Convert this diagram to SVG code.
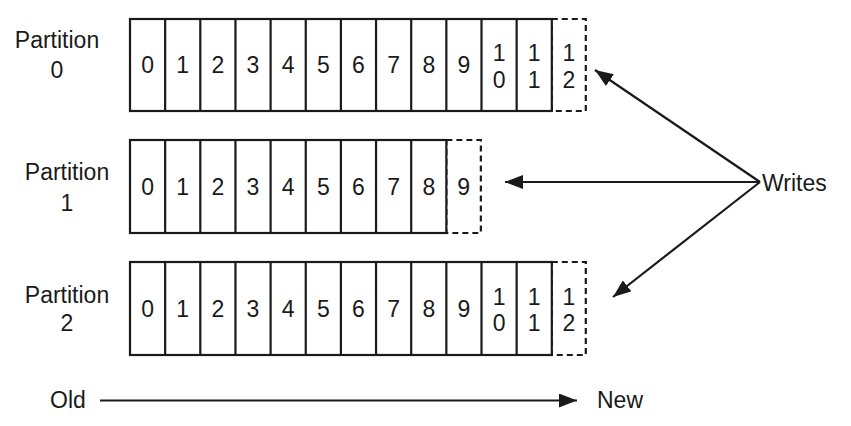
<svg xmlns="http://www.w3.org/2000/svg" width="851" height="426" viewBox="0 0 851 426">
<style>
text{font-family:"Liberation Sans",Arial,sans-serif;font-size:23px;fill:#1a1a1a;text-anchor:middle}
.lbl{font-size:23px}
.cell{fill:#fff;stroke:#1a1a1a;stroke-width:2.2}
.sep{stroke:#1a1a1a;stroke-width:2.2}
.dash{fill:none;stroke:#1a1a1a;stroke-width:2.2;stroke-dasharray:6 4}
.arr{stroke:#1a1a1a;stroke-width:2.2;fill:none;marker-end:url(#ah)}
</style>
<defs>
<marker id="ah" markerUnits="userSpaceOnUse" markerWidth="20" markerHeight="14" refX="18" refY="7" orient="auto">
<path d="M0,0 L18,7 L0,14 Z" fill="#1a1a1a"/>
</marker>
</defs>
<rect width="851" height="426" fill="#fff"/>
<g id="partition0">
<text class="lbl" x="57" y="48">Partition</text>
<text class="lbl" x="57" y="78">0</text>
<rect class="dash" x="551.8" y="19" width="34" height="92"/>
<rect class="cell" x="130" y="19" width="421.8" height="92"/>
<path class="sep" d="M165.15,19V111M200.3,19V111M235.45,19V111M270.6,19V111M305.75,19V111M340.9,19V111M376.05,19V111M411.2,19V111M446.35,19V111M481.5,19V111M516.65,19V111"/>
<text x="147.6" y="73">0</text><text x="182.7" y="73">1</text><text x="217.9" y="73">2</text><text x="253" y="73">3</text><text x="288.2" y="73">4</text><text x="323.3" y="73">5</text><text x="358.5" y="73">6</text><text x="393.6" y="73">7</text><text x="428.8" y="73">8</text><text x="463.9" y="73">9</text>
<text x="499.1" y="61">1</text><text x="499.1" y="88">0</text>
<text x="534.2" y="61">1</text><text x="534.2" y="88">1</text>
<text x="569" y="61">1</text><text x="569" y="88">2</text>
</g>
<g id="partition1">
<text class="lbl" x="67" y="180">Partition</text>
<text class="lbl" x="67" y="211">1</text>
<rect class="dash" x="446.35" y="140" width="34.5" height="93"/>
<rect class="cell" x="130" y="140" width="316.35" height="93"/>
<path class="sep" d="M165.15,140V233M200.3,140V233M235.45,140V233M270.6,140V233M305.75,140V233M340.9,140V233M376.05,140V233M411.2,140V233"/>
<text x="147.6" y="195">0</text><text x="182.7" y="195">1</text><text x="217.9" y="195">2</text><text x="253" y="195">3</text><text x="288.2" y="195">4</text><text x="323.3" y="195">5</text><text x="358.5" y="195">6</text><text x="393.6" y="195">7</text><text x="428.8" y="195">8</text><text x="463.6" y="195">9</text>
</g>
<g id="partition2">
<text class="lbl" x="67" y="303">Partition</text>
<text class="lbl" x="67" y="331">2</text>
<rect class="dash" x="551.8" y="262" width="34" height="93"/>
<rect class="cell" x="130" y="262" width="421.8" height="93"/>
<path class="sep" d="M165.15,262V355M200.3,262V355M235.45,262V355M270.6,262V355M305.75,262V355M340.9,262V355M376.05,262V355M411.2,262V355M446.35,262V355M481.5,262V355M516.65,262V355"/>
<text x="147.6" y="317">0</text><text x="182.7" y="317">1</text><text x="217.9" y="317">2</text><text x="253" y="317">3</text><text x="288.2" y="317">4</text><text x="323.3" y="317">5</text><text x="358.5" y="317">6</text><text x="393.6" y="317">7</text><text x="428.8" y="317">8</text><text x="463.9" y="317">9</text>
<text x="499.1" y="305">1</text><text x="499.1" y="331">0</text>
<text x="534.2" y="305">1</text><text x="534.2" y="331">1</text>
<text x="569" y="305">1</text><text x="569" y="331">2</text>
</g>
<g id="writes">
<text class="lbl" x="762" y="191" style="text-anchor:start">Writes</text>
</g>
<g id="axis">
<text class="lbl" x="50" y="408" style="text-anchor:start">Old</text>
<text class="lbl" x="597" y="408" style="text-anchor:start">New</text>
</g>
<g id="connectors">
<line class="arr" x1="100" y1="400.5" x2="577" y2="400.5"/>
<line class="arr" x1="760" y1="182" x2="505" y2="182"/>
<line class="arr" x1="760" y1="182" x2="595" y2="70"/>
<line class="arr" x1="760" y1="182" x2="613" y2="297"/>
</g>
</svg>
